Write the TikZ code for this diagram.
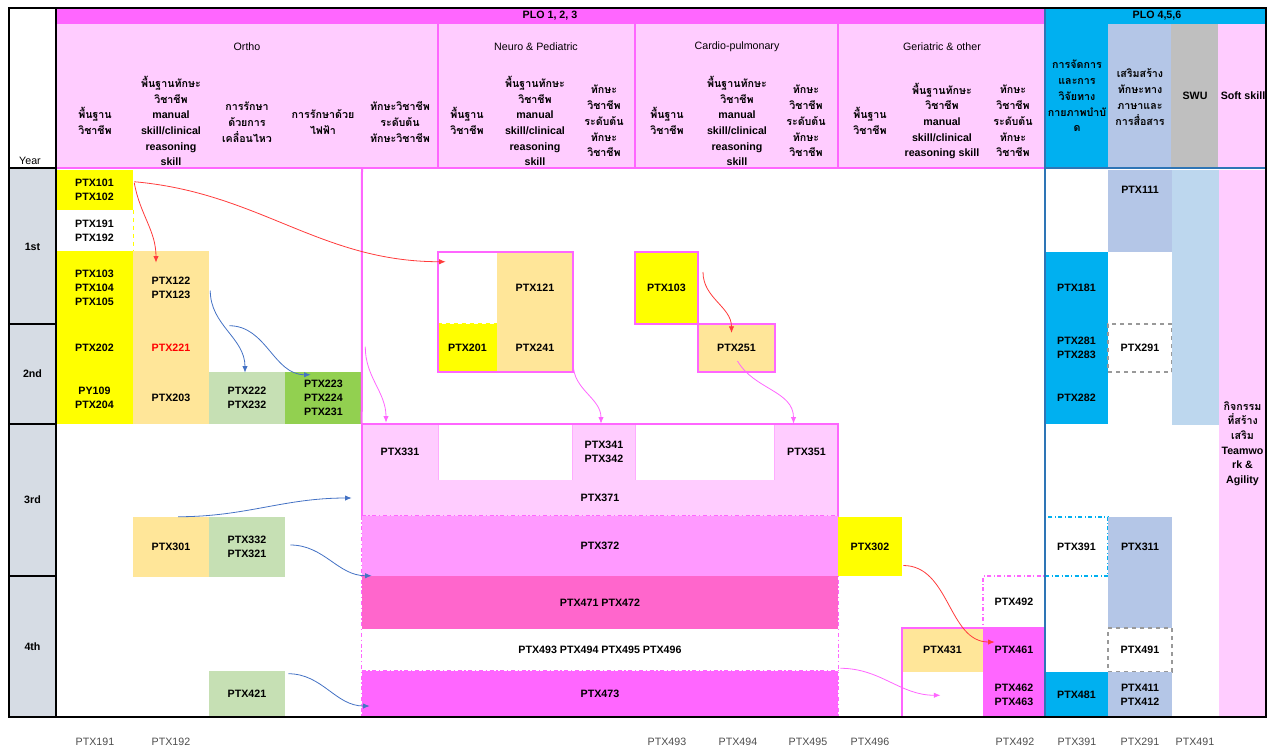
\documentclass[tikz,border=0pt]{standalone}
\usepackage{fontspec}
\setmainfont{Liberation Sans}
\newfontfamily\thaifont[Script=Thai]{Loma}
\usetikzlibrary{calc,fit,arrows.meta}
\newcommand\tht[1]{{\thaifont #1}}
\def\cell[#1](#2)(#3)#4#5{\node[cell,#1,fit={(#2) (#3)}] (#4) {};
  \node[cell,#1,fill=none,draw=none] (#4t) at (#4.center) {#5};}

\definecolor{yel}{HTML}{FFFF00}
\definecolor{orng}{HTML}{FFE699}
\definecolor{lgrn}{HTML}{C6E0B4}
\definecolor{grn}{HTML}{92D050}
\definecolor{lpnk}{HTML}{FFCCFF}
\definecolor{mpnk}{HTML}{FF99FF}
\definecolor{rpnk}{HTML}{FF66CC}
\definecolor{pnk}{HTML}{FF66FF}
\definecolor{cyn}{HTML}{00B0F0}
\definecolor{lblu}{HTML}{B4C6E7}
\definecolor{sky}{HTML}{BDD7EE}
\definecolor{gry}{HTML}{BFBFBF}
\definecolor{yrbg}{HTML}{D6DCE4}
\definecolor{blu}{HTML}{4472C4}
\definecolor{rd}{HTML}{FF3B3B}
\definecolor{edge}{HTML}{2E75B6}

\tikzset{
  cell/.style={inner sep=0pt, align=center, font=\bfseries\fontsize{8}{10.5}\selectfont},
  hdr/.style={inner sep=0pt, align=center, font=\bfseries\fontsize{8}{11.8}\selectfont},
  sec/.style={inner sep=0pt, font=\fontsize{8}{10}\selectfont},
  foot/.style={inner sep=0pt, text=black!70, font=\fontsize{8}{10}\selectfont},
  pline/.style={pnk, line width=1.5pt},
  dline/.style={pnk, line width=1pt, dash dot},
  flow/.style={line width=0.6pt, -{Latex[length=5pt,width=4pt]}},
}

\begin{document}
\begin{tikzpicture}[x=0.75pt,y=-0.75pt]
  \useasboundingbox (0,0) rectangle (1271,751);

  %%%%% HEADER %%%%%
  \fill[pnk] (56,8) rectangle (1045,24);
  \fill[cyn] (1045,8) rectangle (1266,168);
  \fill[lpnk] (56,24) rectangle (1045,168);
  \fill[lblu] (1108,24) rectangle (1171,168);
  \fill[gry] (1171,24) rectangle (1218,168);
  \fill[lpnk] (1218,24) rectangle (1266,168);
  \fill[yrbg] (9,168) rectangle (56,717);

  \node[hdr] (plo13) at (550,16) {PLO 1, 2, 3};
  \node[hdr] (plo46) at (1157,16) {PLO 4,5,6};
  \node[sec] (hOrtho) at (247,47) {Ortho};
  \node[sec] (hNeuro) at (536,47) {Neuro \& Pediatric};
  \node[sec] (hCardio) at (737,47) {Cardio-pulmonary};
  \node[sec] (hGeri) at (942,47) {Geriatric \& other};
  \node[sec] (hYear) at (30,161) {Year};

  \node[hdr] (oA) at (95,121) {\tht{พื้นฐาน}\\\tht{วิชาชีพ}};
  \node[hdr] (oB) at (171,121) {\tht{พื้นฐานทักษะ}\\\tht{วิชาชีพ}\\manual\\skill/clinical\\reasoning\\skill};
  \node[hdr] (oC) at (247,122) {\tht{การรักษา}\\\tht{ด้วยการ}\\\tht{เคลื่อนไหว}};
  \node[hdr] (oD) at (323,122) {\tht{การรักษาด้วย}\\\tht{ไฟฟ้า}};
  \node[hdr] (oE) at (400,122) {\tht{ทักษะวิชาชีพ}\\\tht{ระดับต้น}\\\tht{ทักษะวิชาชีพ}};
  \node[hdr] (nA) at (467,121) {\tht{พื้นฐาน}\\\tht{วิชาชีพ}};
  \node[hdr] (nB) at (535,121) {\tht{พื้นฐานทักษะ}\\\tht{วิชาชีพ}\\manual\\skill/clinical\\reasoning\\skill};
  \node[hdr] (nC) at (604,121) {\tht{ทักษะ}\\\tht{วิชาชีพ}\\\tht{ระดับต้น}\\\tht{ทักษะ}\\\tht{วิชาชีพ}};
  \node[hdr] (cA) at (667,121) {\tht{พื้นฐาน}\\\tht{วิชาชีพ}};
  \node[hdr] (cB) at (737,121) {\tht{พื้นฐานทักษะ}\\\tht{วิชาชีพ}\\manual\\skill/clinical\\reasoning\\skill};
  \node[hdr] (cC) at (806,121) {\tht{ทักษะ}\\\tht{วิชาชีพ}\\\tht{ระดับต้น}\\\tht{ทักษะ}\\\tht{วิชาชีพ}};
  \node[hdr] (gA) at (870,121) {\tht{พื้นฐาน}\\\tht{วิชาชีพ}};
  \node[hdr] (gB) at (942,121) {\tht{พื้นฐานทักษะ}\\\tht{วิชาชีพ}\\manual\\skill/clinical\\reasoning skill};
  \node[hdr] (gC) at (1013,121) {\tht{ทักษะ}\\\tht{วิชาชีพ}\\\tht{ระดับต้น}\\\tht{ทักษะ}\\\tht{วิชาชีพ}};
  \node[hdr] (rA) at (1077,96) {\tht{การจัดการ}\\\tht{และการ}\\\tht{วิจัยทาง}\\\tht{กายภาพบำบั}\\\tht{ด}};
  \node[hdr] (rB) at (1140,97) {\tht{เสริมสร้าง}\\\tht{ทักษะทาง}\\\tht{ภาษาและ}\\\tht{การสื่อสาร}};
  \node[hdr] (rC) at (1195,96) {SWU};
  \node[hdr] (rD) at (1243,96) {Soft skill};

  \draw[pnk, line width=1pt] (438,24) -- (438,168);
  \draw[pnk, line width=1pt] (635,24) -- (635,168);
  \draw[pnk, line width=1pt] (838,24) -- (838,168);

  %%%%% YEAR %%%%%
  \cell[](9,170)(56,324){y1}{1st}
  \cell[](9,324)(56,424){y2}{2nd}
  \cell[](9,424)(56,576){y3}{3rd}
  \cell[](9,576)(56,717){y4}{4th}

  %%%%% ORTHO %%%%%
  \cell[fill=yel](56,170)(133,210){p101}{PTX101\\PTX102}
  \cell[](56,210)(133,251){p191}{PTX191\\PTX192}
  \cell[fill=yel](56,251)(133,324){p103}{PTX103\\PTX104\\PTX105}
  \cell[fill=yel](56,324)(133,372){p202}{PTX202}
  \cell[fill=yel](56,372)(133,424){py109}{PY109\\PTX204}
  \cell[fill=orng](133,251)(209,324){p122}{PTX122\\PTX123}
  \cell[fill=orng,text=red](133,324)(209,372){p221}{PTX221}
  \cell[fill=orng](133,372)(209,424){p203}{PTX203}
  \cell[fill=lgrn](209,372)(285,424){p222}{PTX222\\PTX232}
  \cell[fill=grn](285,372)(362,424){p223}{PTX223\\PTX224\\PTX231}
  \cell[fill=orng](133,517)(209,577){p301}{PTX301}
  \cell[fill=lgrn](209,517)(285,577){p332}{PTX332\\PTX321}
  \cell[fill=lgrn](209,671)(285,717){p421}{PTX421}
  \draw[yel, dashed, line width=0.8pt] (p191.north east) -- (p191.south east);

  %%%%% NEURO / CARDIO %%%%%
  \cell[](438,252)(497,324){nwht}{}
  \cell[fill=yel](438,324)(497,372){p201}{PTX201}
  \cell[fill=orng](497,252)(573,324){p121}{PTX121}
  \cell[fill=orng](497,324)(573,372){p241}{PTX241}
  \draw[yel, dashed, line width=0.8pt] (p201.north west) -- (p201.north east);
  \draw[pline] (nwht.north west) rectangle (p241.south east);
  \cell[fill=yel,draw=pnk,line width=1.5pt](635,252)(698,324){c103}{PTX103}
  \cell[fill=orng,draw=pnk,line width=1.5pt](698,324)(775,372){p251}{PTX251}

  %%%%% YEAR 3-4 BLOCK %%%%%
  \cell[fill=lpnk](362,424)(438,480){p331}{PTX331}
  \cell[fill=lpnk](573,424)(635,480){p341}{PTX341\\PTX342}
  \cell[fill=lpnk](775,424)(838,480){p351}{PTX351}
  \cell[fill=lpnk](362,480)(838,516){p371}{PTX371}
  \cell[fill=mpnk](362,516)(838,576){p372}{PTX372}
  \cell[fill=rpnk](362,576)(838,629){p471}{PTX471 PTX472}
  \cell[](362,629)(838,671){p493}{PTX493 PTX494 PTX495 PTX496}
  \cell[fill=pnk](362,671)(838,717){p473}{PTX473}
  \draw[pnk!55, line width=0.8pt] (p331.north east) -- (p331.south east);
  \draw[pnk!55, line width=0.8pt] (p341.north west) -- (p341.south west);
  \draw[pnk!55, line width=0.8pt] (p341.north east) -- (p341.south east);
  \draw[pnk!55, line width=0.8pt] (p351.north west) -- (p351.south west);
  \draw[pline] (362,168) -- (p331.north west);
  \draw[pline] (p371.south west) -- (p331.north west) -- (p351.north east) -- (p371.south east);
  \draw[dline] (p372.north west) -- (p372.north east);
  \draw[dline] (p372.north west) -- (p473.south west);
  \draw[dline] (p372.north east) -- (p473.south east);
  \draw[dline] (p473.north west) -- (p473.north east);

  %%%%% GERIATRIC %%%%%
  \cell[fill=yel](838,517)(902,576){g302}{PTX302}
  \cell[draw=pnk,dash dot,line width=1pt](983,576)(1045,628){g492}{PTX492}
  \cell[fill=orng](902,628)(983,672){g431}{PTX431}
  \cell[fill=pnk](983,628)(1045,672){g461}{PTX461}
  \cell[fill=pnk](983,672)(1045,717){g462}{PTX462\\PTX463}
  \draw[pline] (902,718) |- (g461.north east);

  %%%%% PLO 4,5,6 %%%%%
  \cell[fill=cyn](1045,252)(1108,324){r181}{PTX181}
  \cell[fill=cyn](1045,324)(1108,372){r281}{PTX281\\PTX283}
  \cell[fill=cyn](1045,372)(1108,424){r282}{PTX282}
  \cell[draw=cyn,dash dot,line width=1pt](1045,517)(1108,576){r391}{PTX391}
  \cell[fill=cyn](1045,672)(1108,717){r481}{PTX481}
  \cell[fill=lblu](1108,170)(1172,210){r111}{PTX111}
  \fill[lblu] (1108,210) rectangle (1172,252);
  \cell[draw=black!40,dashed,line width=0.8pt](1108,324)(1172,372){r291}{PTX291}
  \cell[fill=lblu](1108,517)(1172,576){r311}{PTX311}
  \fill[lblu] (1108,576) rectangle (1172,628);
  \cell[draw=black!40,dashed,line width=0.8pt](1108,628)(1172,672){r491}{PTX491}
  \cell[fill=lblu](1108,672)(1172,717){r411}{PTX411\\PTX412}
  \fill[sky] (1172,170) rectangle (1219,425);
  \cell[fill=lpnk,font=\bfseries\fontsize{8}{11}\selectfont](1219,170)(1266,717){soft}{\tht{กิจกรรม}\\\tht{ที่สร้าง}\\\tht{เสริม}\\Teamwo\\rk \&\\Agility}

  %%%%% FRAME %%%%%
  \draw[pline] (56,168) -- (1045,168);
  \draw[edge, line width=0.8pt] (1045,168) -- (1266,168);
  \draw[edge, line width=1pt] (1045,8) -- (1045,717);
  \draw[line width=1.5pt] (9,168) -- (56,168);
  \draw[line width=1.5pt] (y1.south west) -- (y1.south east);
  \draw[line width=1.5pt] (y2.south west) -- (y2.south east);
  \draw[line width=1.5pt] (y3.south west) -- (y3.south east);
  \draw[line width=1.2pt] (56,8) -- (56,717);
  \draw[line width=1pt] (9,8) rectangle (1266,717);

  %%%%% ARROWS %%%%%
  \draw[flow, rd] ($(p101.north east)+(1,12)$) to[out=-5,in=180] ($(nwht.north west)+(8,10)$);
  \draw[flow, rd] ($(p101.north east)+(1,13)$) to[out=-80,in=90] ($(p122.north)+(-15,12)$);
  \draw[flow, blu] ($(p122.east)+(1,3)$) to[out=-90,in=90] ($(p222.north)+(-2,1)$);
  \draw[flow, blu] ($(p221.north east)+(20,2)$) to[out=0,in=180] ($(p223.north west)+(26,3)$);
  \draw[flow, pnk] ($(p223.north east)+(3,-25)$) to[out=-90,in=90] ($(p331.north)+(-14,-1)$);
  \draw[flow, pnk] ($(p241.south east)+(0,-8)$) to[out=-90,in=90] ($(p341.north)+(-3,0)$);
  \draw[flow, pnk] ($(p251.center)+(1,13)$) to[out=-60,in=90] ($(p351.north)+(-13,0)$);
  \draw[flow, rd] ($(c103.east)+(4,-16)$) to[out=-90,in=90] ($(p251.north)+(-5,10)$);
  \draw[flow, blu] ($(p301.north)+(7,0)$) to[out=0,in=180] ($(p371.west)+(-10,0)$);
  \draw[flow, blu] ($(p332.east)+(5,-2)$) to[out=0,in=180] ($(p471.north west)+(10,0)$);
  \draw[flow, blu] ($(p421.north east)+(3,3)$) to[out=0,in=180] ($(p473.west)+(8,12)$);
  \draw[flow, pnk] ($(p493.south east)+(2,-3)$) to[out=0,in=180] ($(g431.south)+(-2,23)$);
  \draw[flow, rd] ($(g302.east)+(1,19)$) to[out=0,in=180] ($(g461.west)+(12,-8)$);

  %%%%% FOOTER %%%%%
  \node[foot] (b191) at (95,742) {PTX191};
  \node[foot] (b192) at (171,742) {PTX192};
  \node[foot] (b493) at (667,742) {PTX493};
  \node[foot] (b494) at (738,742) {PTX494};
  \node[foot] (b495) at (808,742) {PTX495};
  \node[foot] (b496) at (870,742) {PTX496};
  \node[foot] (b492) at (1015,742) {PTX492};
  \node[foot] (b391) at (1077,742) {PTX391};
  \node[foot] (b291) at (1140,742) {PTX291};
  \node[foot] (b491) at (1195,742) {PTX491};
\end{tikzpicture}
\end{document}
